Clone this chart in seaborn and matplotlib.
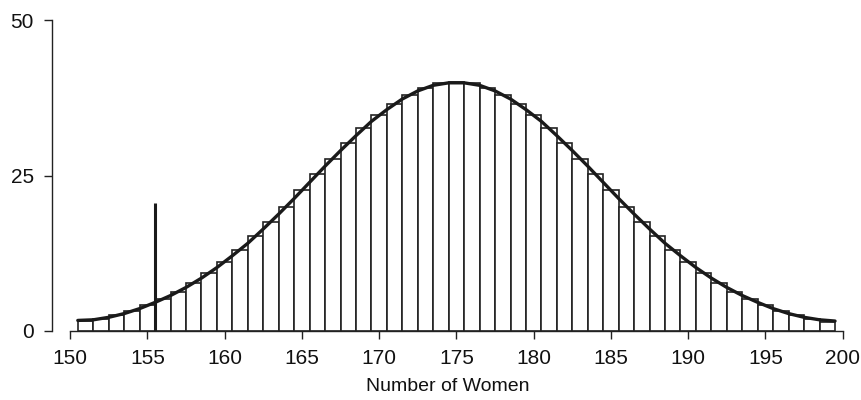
import numpy as np
import pandas as pd
import matplotlib
matplotlib.use("Agg")
import matplotlib.pyplot as plt
import seaborn as sns

# Bar centres (number of women) and bar heights
women = list(range(151, 200))
counts = [1.6, 2.0, 2.5, 3.2, 4.1, 5.1, 6.3, 7.7, 9.3, 11.1, 13.1, 15.2,
          17.6, 20.0, 22.6, 25.2, 27.7, 30.2, 32.6, 34.7, 36.5, 38.0, 39.1,
          39.8, 40.0, 39.8, 39.1, 38.0, 36.5, 34.7, 32.6, 30.2, 27.7, 25.2,
          22.6, 20.0, 17.6, 15.2, 13.1, 11.1, 9.3, 7.7, 6.3, 5.1, 4.1, 3.2,
          2.5, 2.0, 1.5]

# Smooth curve values at the bar edges
curve_x = [150.5, 151.5, 152.5, 153.5, 154.5, 155.5, 156.5, 157.5, 158.5,
           159.5, 160.5, 161.5, 162.5, 163.5, 164.5, 165.5, 166.5, 167.5,
           168.5, 169.5, 170.5, 171.5, 172.5, 173.5, 174.5, 175.5, 176.5,
           177.5, 178.5, 179.5, 180.5, 181.5, 182.5, 183.5, 184.5, 185.5,
           186.5, 187.5, 188.5, 189.5, 190.5, 191.5, 192.5, 193.5, 194.5,
           195.5, 196.5, 197.5, 198.5, 199.5]
curve_y = [1.7, 1.8, 2.2, 2.8, 3.6, 4.6, 5.7, 7.0, 8.5, 10.2, 12.1, 14.1,
           16.4, 18.8, 21.3, 23.9, 26.5, 29.0, 31.4, 33.7, 35.6, 37.3, 38.6,
           39.5, 39.9, 39.9, 39.5, 38.6, 37.3, 35.6, 33.7, 31.4, 29.0, 26.5,
           23.9, 21.3, 18.8, 16.4, 14.1, 12.1, 10.2, 8.5, 7.0, 5.7, 4.6, 3.6,
           2.8, 2.2, 1.8, 1.6]

# Marker line
marker_x = 155.5
marker_top = 20.5

sns.set_theme(style="ticks")
plt.rcParams["font.family"] = ["Liberation Sans", "DejaVu Sans"]

df = pd.DataFrame({"women": women, "count": counts})
curve_df = pd.DataFrame({"x": curve_x, "y": curve_y})

fig = plt.figure(figsize=(8.61, 4.0), dpi=100)
ax = fig.add_axes([0.0604, 0.1725, 0.9788 - 0.0604, 0.95 - 0.1725])

sns.histplot(data=df, x="women", weights="count", discrete=True,
             stat="count", fill=True, color="white", edgecolor="#222222",
             linewidth=1.2, alpha=1, ax=ax)
sns.lineplot(data=curve_df, x="x", y="y", color="#1a1a1a", linewidth=2.4, ax=ax)
ax.vlines(marker_x, 0, marker_top, color="#1a1a1a", linewidth=2.2)

ax.set_xlim(148.83, 200)
ax.set_ylim(0, 50)
ax.set_xticks(range(150, 201, 5))
ax.set_yticks([0, 25, 50])
ax.spines["top"].set_visible(False)
ax.spines["right"].set_visible(False)
ax.spines["bottom"].set_bounds(150, 200)
for s in ["left", "bottom"]:
    ax.spines[s].set_color("#222222")
    ax.spines[s].set_linewidth(1.0)
ax.tick_params(axis="both", labelsize=15, length=6, width=1.0, color="#222222",
               labelcolor="#111111", pad=7)
ax.set_xlabel("Number of Women", fontsize=14, labelpad=7, color="#111111")
ax.set_ylabel("")
ax.patch.set_alpha(0)

fig.savefig("out.png", dpi=100)
